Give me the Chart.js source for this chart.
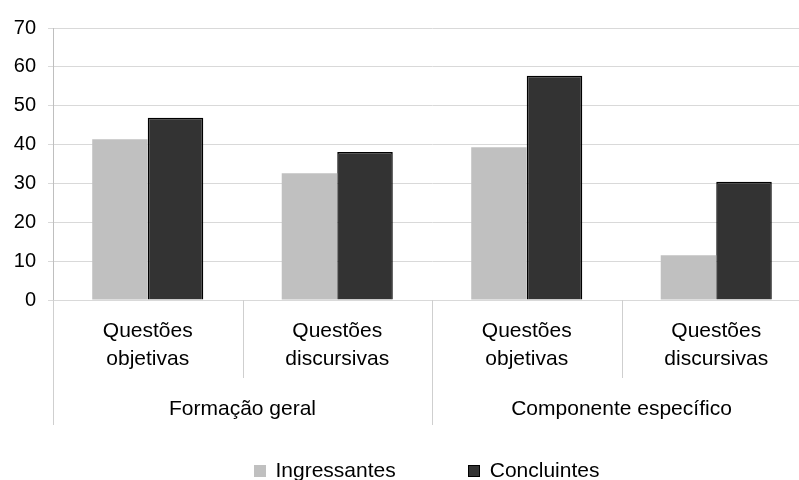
<!DOCTYPE html>
<html>
<head>
<meta charset="utf-8">
<script src="https://cdn.jsdelivr.net/npm/chart.js@4.4.1/dist/chart.umd.min.js"></script>
<style>
  html, body { margin: 0; padding: 0; background: #fff; overflow: hidden; }
  #wrap { position: relative; width: 853px; height: 480px; }
  #legend {
    position: absolute; left: 0; top: 460px; width: 853px;
    display: flex; justify-content: center; gap: 72px;
    font: 21px "Liberation Sans", Arial, sans-serif; line-height: 20px; color: #000;
  }
  #legend .box { display: inline-block; width: 12px; height: 12px; margin-right: 10px; box-sizing: border-box; vertical-align: baseline; }
</style>
</head>
<body>
<div id="wrap">
  <canvas id="chart" width="853" height="480"></canvas>
  <div id="legend"></div>
</div>
<script>
const categories = [
  ['Questões', 'objetivas'],
  ['Questões', 'discursivas'],
  ['Questões', 'objetivas'],
  ['Questões', 'discursivas']
];
const groups = ['Formação geral', 'Componente específico'];
const groupSize = 2;
const ingressantes = [41.4, 32.6, 39.3, 11.5];
const concluintes = [46.9, 38.1, 57.7, 30.4];
const seriesNames = ['Ingressantes', 'Concluintes'];
const yMin = 0, yMax = 70, yStep = 10;

const FONT = '"Liberation Sans", Arial, sans-serif';

// separators between categories and the second row of group labels
const groupAxis = {
  id: 'groupAxis',
  afterDraw(chart) {
    const ctx = chart.ctx;
    const x = chart.scales.x;
    const bottom = chart.chartArea.bottom;
    const n = categories.length;
    const half = (x.getPixelForValue(1) - x.getPixelForValue(0)) / 2;
    const edge = i => i < n ? x.getPixelForValue(i) - half : x.getPixelForValue(n - 1) + half;

    ctx.save();
    ctx.strokeStyle = '#cfcfcf';
    ctx.lineWidth = 1;
    for (let i = 0; i <= n; i++) {
      const px = Math.round(edge(i)) + 0.5;
      const len = i % groupSize === 0 ? 125 : 78;
      ctx.beginPath();
      ctx.moveTo(px, bottom);
      ctx.lineTo(px, bottom + len);
      ctx.stroke();
    }
    ctx.fillStyle = '#000';
    ctx.font = '21px ' + FONT;
    ctx.textAlign = 'center';
    ctx.textBaseline = 'middle';
    groups.forEach((g, k) => {
      const cx = (edge(k * groupSize) + edge((k + 1) * groupSize)) / 2;
      ctx.fillText(g, cx, bottom + 109);
    });
    ctx.restore();
  }
};

const chart = new Chart(document.getElementById('chart'), {
  type: 'bar',
  data: {
    labels: categories,
    datasets: [
      { label: seriesNames[0], data: ingressantes, backgroundColor: '#c0c0c0', borderWidth: 0 },
      { label: seriesNames[1], data: concluintes, backgroundColor: '#333333', borderColor: '#000', borderWidth: 1.5 }
    ]
  },
  options: {
    responsive: false,
    animation: false,
    events: [],
    layout: { padding: { top: 28, right: 42, left: 0, bottom: 0 } },
    datasets: { bar: { categoryPercentage: 0.586, barPercentage: 1 } },
    plugins: { legend: { display: false }, tooltip: { enabled: false } },
    scales: {
      x: {
        grid: { display: false, drawTicks: false },
        border: { display: false },
        ticks: {
          autoSkip: false, maxRotation: 0, padding: 17, color: '#000',
          font: { family: FONT, size: 21, lineHeight: 1.33 }
        },
        afterFit(scale) { scale.height = 180; }
      },
      y: {
        min: yMin, max: yMax,
        grid: { color: '#d9d9d9', tickLength: 5 },
        border: { color: '#bfbfbf' },
        ticks: {
          stepSize: yStep, padding: 12, color: '#000',
          font: { family: FONT, size: 20 }
        },
        afterFit(scale) { scale.width = 53; }
      }
    }
  },
  plugins: [groupAxis]
});

// legend built from the datasets
const legend = document.getElementById('legend');
chart.data.datasets.forEach(ds => {
  const item = document.createElement('span');
  const box = document.createElement('span');
  box.className = 'box';
  box.style.background = ds.backgroundColor;
  if (ds.borderWidth) box.style.border = '1px solid ' + ds.borderColor;
  item.appendChild(box);
  item.appendChild(document.createTextNode(ds.label));
  legend.appendChild(item);
});
</script>
</body>
</html>
